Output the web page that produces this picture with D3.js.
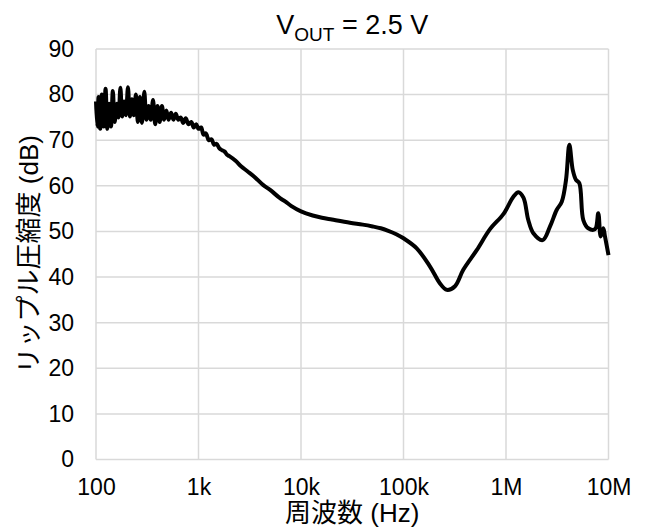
<!DOCTYPE html>
<html>
<head>
<meta charset="utf-8">
<script src="https://cdn.jsdelivr.net/npm/d3@7"></script>
<style>
  body { margin: 0; background: #fff; }
  text { font-family: "Liberation Sans", Arial, "Noto Sans CJK JP", sans-serif; fill: #000; }
</style>
</head>
<body>
<svg id="chart"></svg>
<script>
// frequency (Hz) and ripple rejection (dB)
var freqHz = [
  100, 103, 106, 110, 114, 119, 124, 129, 134, 140,
  146, 152, 160, 166, 173, 180, 188, 196, 205, 214,
  224, 234, 245, 256, 268, 281, 296, 310, 326, 342,
  360, 378, 398, 418, 440, 462, 486, 510, 540, 570,
  600, 635, 670, 710, 750, 800, 850, 900, 950, 1000,
  1060, 1120, 1180, 1260, 1340, 1420, 1500, 1600, 1700, 1800,
  1900, 2000, 2300, 2600, 3000, 3500, 4260, 5000, 6240, 7000,
  8000, 10000, 13000, 16000, 20000, 30000, 40000, 50000, 60000, 70000,
  85000, 100000, 134600, 181500, 227000, 264000, 318000, 383000, 518000, 698000,
  942000, 1180000, 1320000, 1480000, 1650000, 1850000, 2280000, 2690000, 3120000, 3500000,
  3850000, 4150000, 4480000, 4820000, 5190000, 5680000, 6350000, 7390000, 7950000, 8390000,
  8900000, 9240000, 10000000
];
var rippleDb = [
  78.5, 73, 79.5, 72.5, 80, 73, 81.3, 72.5, 78, 73,
  80.8, 74, 78, 75, 81.5, 75.2, 78.5, 75.5, 81.6, 75.2,
  79, 75.5, 80, 74, 79.5, 73.8, 80.6, 74.5, 77.5, 74.5,
  78.8, 73.5, 77.5, 74, 77.5, 74.5, 76.5, 74.5, 76, 74.5,
  75.8, 74.5, 75, 73.8, 74.8, 73.5, 74, 72.8, 73.5, 72.5,
  72.8, 71.2, 71.5, 70, 70.2, 69, 69.2, 68.2, 67.8, 67.5,
  66.8, 66.5, 65.5, 64.3, 63.2, 62, 60.2, 59.1, 57.3, 56.6,
  55.6, 54.4, 53.5, 53, 52.6, 51.9, 51.5, 51.1, 50.7, 50.2,
  49.4, 48.5, 46.3, 42.3, 38.6, 37.2, 38, 41.6, 45.9, 50.5,
  53.8, 57.6, 58.6, 57.4, 52.5, 49.6, 48.1, 51.1, 54.7, 56.5,
  61.3, 69, 63.5, 61.3, 60.6, 52.5, 50.7, 50.5, 54, 48.9,
  50.7, 48.9, 44.8
];
var xTickValues = [1e2, 1e3, 1e4, 1e5, 1e6, 1e7];
var xTickLabels = ["100", "1k", "10k", "100k", "1M", "10M"];
var yTicks = [0, 10, 20, 30, 40, 50, 60, 70, 80, 90];

var W = 648, H = 529;
var margin = {top: 49, right: 39.5, bottom: 69.5, left: 96},
    width = W - margin.left - margin.right,
    height = H - margin.top - margin.bottom;

var svg = d3.select("#chart")
    .attr("width", W)
    .attr("height", H);

var chart = svg.append("g")
    .attr("transform", "translate(" + margin.left + "," + margin.top + ")");

var x = d3.scaleLog()
    .domain([1e2, 1e7])
    .range([0, width]);

var y = d3.scaleLinear()
    .domain([0, 90])
    .range([height, 0]);

// grid lines
chart.append("g")
    .selectAll("line.h")
    .data(yTicks)
  .enter().append("line")
    .attr("x1", 0).attr("x2", width)
    .attr("y1", function(d) { return y(d); })
    .attr("y2", function(d) { return y(d); })
    .attr("stroke", "#d9d9d9")
    .attr("stroke-width", 1.5);

chart.append("g")
    .selectAll("line.v")
    .data(xTickValues)
  .enter().append("line")
    .attr("y1", 0).attr("y2", height)
    .attr("x1", function(d) { return x(d); })
    .attr("x2", function(d) { return x(d); })
    .attr("stroke", "#d9d9d9")
    .attr("stroke-width", 1.5);

// axes (labels only)
var xAxis = d3.axisBottom(x)
    .tickValues(xTickValues)
    .tickFormat(function(d, i) { return xTickLabels[i]; })
    .tickSize(0)
    .tickPadding(19);

var yAxis = d3.axisLeft(y)
    .tickValues(yTicks)
    .tickSize(0)
    .tickPadding(22);

chart.append("g")
    .attr("transform", "translate(0," + height + ")")
    .call(xAxis)
    .call(function(g) { g.select(".domain").remove(); })
    .selectAll("text")
    .style("font-size", "23px");

chart.append("g")
    .call(yAxis)
    .call(function(g) { g.select(".domain").remove(); })
    .selectAll("text")
    .style("font-size", "23px");

// curve
var points = freqHz.map(function(f, i) { return [f, rippleDb[i]]; });

var line = d3.line()
    .curve(d3.curveCatmullRom.alpha(0.5))
    .x(function(d) { return x(d[0]); })
    .y(function(d) { return y(d[1]); });

chart.append("path")
    .datum(points)
    .attr("d", line)
    .attr("fill", "none")
    .attr("stroke", "#000")
    .attr("stroke-width", 4)
    .attr("stroke-linejoin", "round");

// title
var title = svg.append("text")
    .attr("x", margin.left + width / 2)
    .attr("y", 34)
    .attr("text-anchor", "middle")
    .style("font-size", "27px");
title.append("tspan").text("V");
title.append("tspan").attr("dy", 7).style("font-size", "19px").text("OUT");
title.append("tspan").attr("dy", -7).text(" = 2.5 V");

// axis titles
svg.append("text")
    .attr("x", margin.left + width / 2)
    .attr("y", 522)
    .attr("text-anchor", "middle")
    .style("font-size", "26px")
    .text("周波数 (Hz)");

svg.append("text")
    .attr("transform", "translate(38," + (margin.top + height / 2) + ") rotate(-90)")
    .attr("text-anchor", "middle")
    .style("font-size", "26px")
    .text("リップル圧縮度 (dB)");
</script>
</body>
</html>
